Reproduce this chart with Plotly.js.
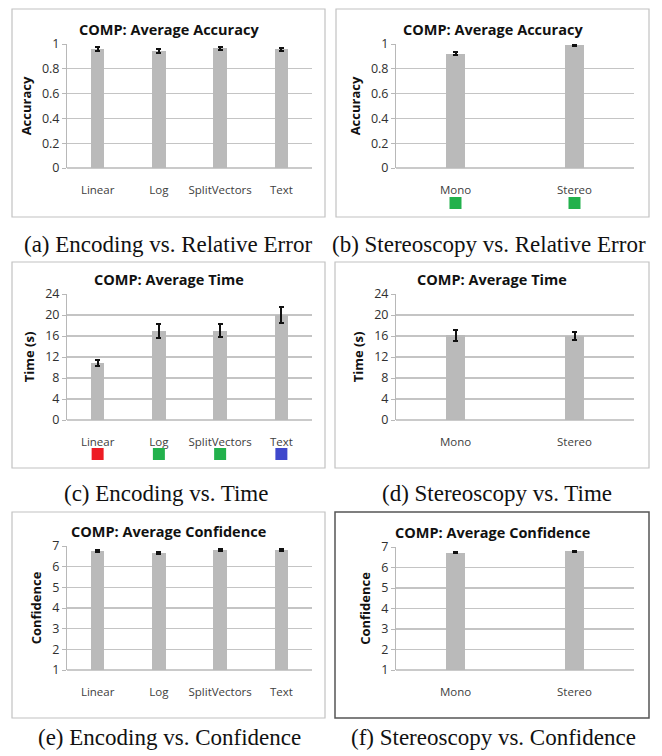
<!DOCTYPE html>
<html>
<head>
<meta charset="utf-8">
<script src="https://cdn.plot.ly/plotly-3.0.1.min.js"></script>
<style>
html,body{margin:0;padding:0;background:#fff;}
#chart{width:662px;height:756px;}
</style>
</head>
<body>
<div id="chart"></div>
<script>
// ---- data ----
const encodingCats = ["Linear", "Log", "SplitVectors", "Text"];
const stereoCats = ["Mono", "Stereo"];

const accEncoding = [0.958, 0.945, 0.966, 0.957];
const accEncodingErr = [0.014, 0.015, 0.012, 0.013];
const accStereo = [0.922, 0.989];
const accStereoErr = [0.011, 0.004];

const timeEncoding = [10.8, 16.9, 17.0, 20.0];
const timeEncodingErr = [0.6, 1.3, 1.2, 1.5];
const timeStereo = [16.1, 16.0];
const timeStereoErr = [1.0, 0.85];

const confEncoding = [6.76, 6.66, 6.81, 6.81];
const confEncodingErr = [0.04, 0.04, 0.03, 0.03];
const confStereo = [6.72, 6.79];
const confStereoErr = [0.03, 0.03];

const accStereoGroupColors = ["#22b14c", "#22b14c"];
const timeEncodingGroupColors = ["#ed1c24", "#22b14c", "#22b14c", "#3f48cc"];

const chartTitles = ["COMP: Average Accuracy", "COMP: Average Accuracy",
  "COMP: Average Time", "COMP: Average Time",
  "COMP: Average Confidence", "COMP: Average Confidence"];
const yTitles = ["Accuracy", "Accuracy", "Time (s)", "Time (s)", "Confidence", "Confidence"];
const captions = ["(a) Encoding vs. Relative Error", "(b) Stereoscopy vs. Relative Error",
  "(c) Encoding vs. Time", "(d) Stereoscopy vs. Time",
  "(e) Encoding vs. Confidence", "(f) Stereoscopy vs. Confidence"];

// ---- layout helpers (pixel geometry) ----
const W = 662, H = 756;
const px = v => v / W;
const py = v => 1 - v / H;

const panels = [
  {cats: encodingCats, y: accEncoding, e: accEncodingErr, range: [0, 1], dtick: 0.2, plot: [67, 312, 44, 168], box: [12, 325, 9, 217], caption: [168, 244], bw: 0.22},
  {cats: stereoCats, y: accStereo, e: accStereoErr, range: [0, 1], dtick: 0.2, plot: [396, 634, 44, 168], box: [336, 649, 9, 217], caption: [489, 244], bw: 0.16},
  {cats: encodingCats, y: timeEncoding, e: timeEncodingErr, range: [0, 24], dtick: 4, plot: [67, 312, 294, 420], box: [12, 325, 262, 468], caption: [166, 493], bw: 0.22},
  {cats: stereoCats, y: timeStereo, e: timeStereoErr, range: [0, 24], dtick: 4, plot: [396, 634, 294, 420], box: [335, 649, 262, 468], caption: [497, 493], bw: 0.16},
  {cats: encodingCats, y: confEncoding, e: confEncodingErr, range: [1, 7], dtick: 1, plot: [67, 312, 546, 670], box: [12, 325, 512, 718], caption: [169, 737], bw: 0.22},
  {cats: stereoCats, y: confStereo, e: confStereoErr, range: [1, 7], dtick: 1, plot: [396, 634, 547, 670], box: [335, 649, 512, 718], caption: [493, 737], bw: 0.16}
];

const chartFont = "Open Sans, Liberation Sans, sans-serif";
const data = [];
const layout = {
  width: W, height: H,
  margin: {l: 0, r: 0, t: 0, b: 0},
  paper_bgcolor: "#fff", plot_bgcolor: "rgba(0,0,0,0)",
  showlegend: false,
  bargap: 0,
  shapes: [], annotations: []
};

panels.forEach((p, i) => {
  const n = i + 1;
  const xa = "x" + n, ya = "y" + n;
  data.push({
    type: "bar", x: p.cats, y: p.y, xaxis: xa, yaxis: ya,
    width: p.bw,
    marker: {color: "#bababa", line: {width: 0}},
    error_y: {type: "data", array: p.e, visible: true, color: "#111", thickness: 2, width: 2.5},
    hoverinfo: "x+y"
  });
  layout["xaxis" + n] = {
    domain: [px(p.plot[0]), px(p.plot[1])], anchor: ya,
    type: "category", showgrid: false, zeroline: false,
    showline: false, ticks: "", ticklen: 0,
    ticklabelstandoff: 13,
    tickfont: {family: chartFont, size: 11.5, color: "#404040"},
    fixedrange: true
  };
  layout["yaxis" + n] = {
    domain: [py(p.plot[3]), py(p.plot[2])], anchor: xa,
    range: p.range, dtick: p.dtick, tick0: 0,
    showgrid: true, gridcolor: "#c4c4c4", gridwidth: 1.3,
    zeroline: false,
    showline: true, linecolor: "#b8b8b8", linewidth: 1,
    ticks: "outside", ticklen: 4, tickcolor: "#b8b8b8",
    tickfont: {family: chartFont, size: 12.5, color: "#303030"},
    title: {text: "<b>" + yTitles[i] + "</b>", font: {family: chartFont, size: 13, color: "#111"}, standoff: 7},
    fixedrange: true
  };
  // bottom gridline (axis baseline)
  layout.shapes.push({type: "line", xref: xa + " domain", yref: ya + " domain", x0: 0, x1: 1, y0: 0, y1: 0, line: {color: "#b8b8b8", width: 1.3}});
  // chart frame
  layout.shapes.push({type: "rect", xref: "paper", yref: "paper",
    x0: px(p.box[0]), x1: px(p.box[1]), y0: py(p.box[3]), y1: py(p.box[2]),
    line: {color: i === 5 ? "#555" : "#c2c2c2", width: i === 5 ? 1.5 : 1.2}, layer: "below"});
  // chart title
  layout.annotations.push({xref: "paper", yref: "paper",
    x: px((p.box[0] + p.box[1]) / 2), y: py(p.plot[2] - 15), yanchor: "middle", xanchor: "center",
    text: "<b>" + chartTitles[i] + "</b>", showarrow: false,
    font: {family: chartFont, size: 14.5, color: "#111"}});
  // caption
  layout.annotations.push({xref: "paper", yref: "paper",
    x: px(p.caption[0]), y: py(p.caption[1]), xanchor: "center", yanchor: "middle",
    text: captions[i], showarrow: false,
    font: {family: "Liberation Serif, Times New Roman, serif", size: 23, color: "#111"}});
});

// significance group colour markers (panels b and c)
function addMarkers(panelIndex, cats, colors, topPx) {
  const n = 6 + data.filter(d => d.mode === "markers").length + 1;
  const ya = "y" + n;
  layout["yaxis" + n] = {
    domain: [py(topPx + 12), py(topPx)], anchor: "x" + (panelIndex + 1),
    range: [-1, 1], visible: false, fixedrange: true
  };
  data.push({
    type: "scatter", mode: "markers", x: cats, y: cats.map(() => 0),
    xaxis: "x" + (panelIndex + 1), yaxis: ya,
    marker: {symbol: "square", size: 12, color: colors, line: {width: 0}},
    hoverinfo: "skip"
  });
}
addMarkers(1, stereoCats, accStereoGroupColors, 197);
addMarkers(2, encodingCats, timeEncodingGroupColors, 448);

Plotly.newPlot("chart", data, layout, {displayModeBar: false, staticPlot: true});
</script>
</body>
</html>
